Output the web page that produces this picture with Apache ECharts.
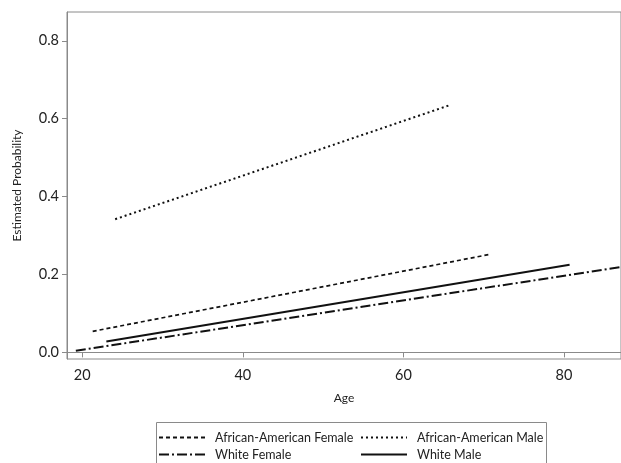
<!DOCTYPE html>
<html>
<head>
<meta charset="utf-8">
<script src="https://cdn.jsdelivr.net/npm/echarts@6/dist/echarts.min.js"></script>
<style>html,body{margin:0;padding:0;background:#fff}#c{width:621px;height:463px}</style>
</head>
<body>
<div id="c"></div>
<script>
// Data
const seriesNames = ['African-American Female', 'African-American Male', 'White Female', 'White Male'];
const aaFemaleAge = [21.3, 70.6];
const aaFemaleProb = [0.054, 0.251];
const aaMaleAge = [24.1, 65.8];
const aaMaleProb = [0.342, 0.635];
const whiteFemaleAge = [19.2, 87.0];
const whiteFemaleProb = [0.004, 0.219];
const whiteMaleAge = [23.0, 80.7];
const whiteMaleProb = [0.028, 0.225];
const xTicks = [20, 40, 60, 80];
const yTicks = [0, 0.2, 0.4, 0.6, 0.8];

const pairs = (xs, ys) => xs.map((x, i) => [x, ys[i]]);
const FONT = 'Lato';
const AX = '#8a8a8a';

const mk = (name, xs, ys, type, width) => ({
  name, type: 'line', data: pairs(xs, ys), symbol: 'none', clip: true,
  lineStyle: { color: '#111', width, type },
  itemStyle: { color: '#111' }
});

const legendBase = {
  orient: 'vertical', top: 431, height: 40, padding: 0,
  itemWidth: 46, itemHeight: 12, itemGap: 4,
  itemStyle: { opacity: 0 },
  textStyle: { fontFamily: FONT, fontSize: 12.5, color: '#222', padding: [0, 0, 0, 5] }
};

const chart = echarts.init(document.getElementById('c'), null, { renderer: 'canvas' });
chart.setOption({
  animation: false,
  backgroundColor: '#fff',
  textStyle: { fontFamily: FONT },
  grid: { left: 67, top: 12, right: -2, bottom: 104, show: true, borderColor: AX, borderWidth: 1 },
  xAxis: {
    type: 'value', min: 18.1, max: 87.1,
    name: 'Age', nameLocation: 'middle', nameGap: 33,
    nameTextStyle: { fontFamily: FONT, fontSize: 12, color: '#222' },
    splitLine: { show: false },
    axisLine: { lineStyle: { color: AX } },
    axisTick: { customValues: xTicks, length: 5, lineStyle: { color: AX } },
    axisLabel: { customValues: xTicks, fontFamily: FONT, fontSize: 14.5, color: '#222', margin: 9 }
  },
  yAxis: {
    type: 'value', min: -0.017, max: 0.874,
    name: 'Estimated Probability', nameLocation: 'middle', nameGap: 44,
    nameTextStyle: { fontFamily: FONT, fontSize: 12, color: '#222' },
    splitLine: { show: false },
    axisLine: { show: true, lineStyle: { color: AX } },
    axisTick: { show: true, customValues: yTicks, length: 5, lineStyle: { color: AX } },
    axisLabel: { customValues: yTicks, fontFamily: FONT, fontSize: 14.5, color: '#222', margin: 8,
      formatter: v => v.toFixed(1) }
  },
  legend: [
    Object.assign({}, legendBase, { data: [seriesNames[0], seriesNames[2]], left: 158 }),
    Object.assign({}, legendBase, { data: [seriesNames[1], seriesNames[3]], left: 360 })
  ],
  graphic: [{
    type: 'rect', left: 154, top: 420,
    shape: { width: 390, height: 60 },
    style: { fill: 'none', stroke: '#8a8a8a', lineWidth: 1 }
  }],
  series: [
    mk(seriesNames[0], aaFemaleAge, aaFemaleProb, [4, 3], 1.7),
    mk(seriesNames[1], aaMaleAge, aaMaleProb, [2, 3], 2),
    mk(seriesNames[2], whiteFemaleAge, whiteFemaleProb, [10, 3, 2, 3], 2),
    mk(seriesNames[3], whiteMaleAge, whiteMaleProb, 'solid', 2)
  ]
});
</script>
</body>
</html>
